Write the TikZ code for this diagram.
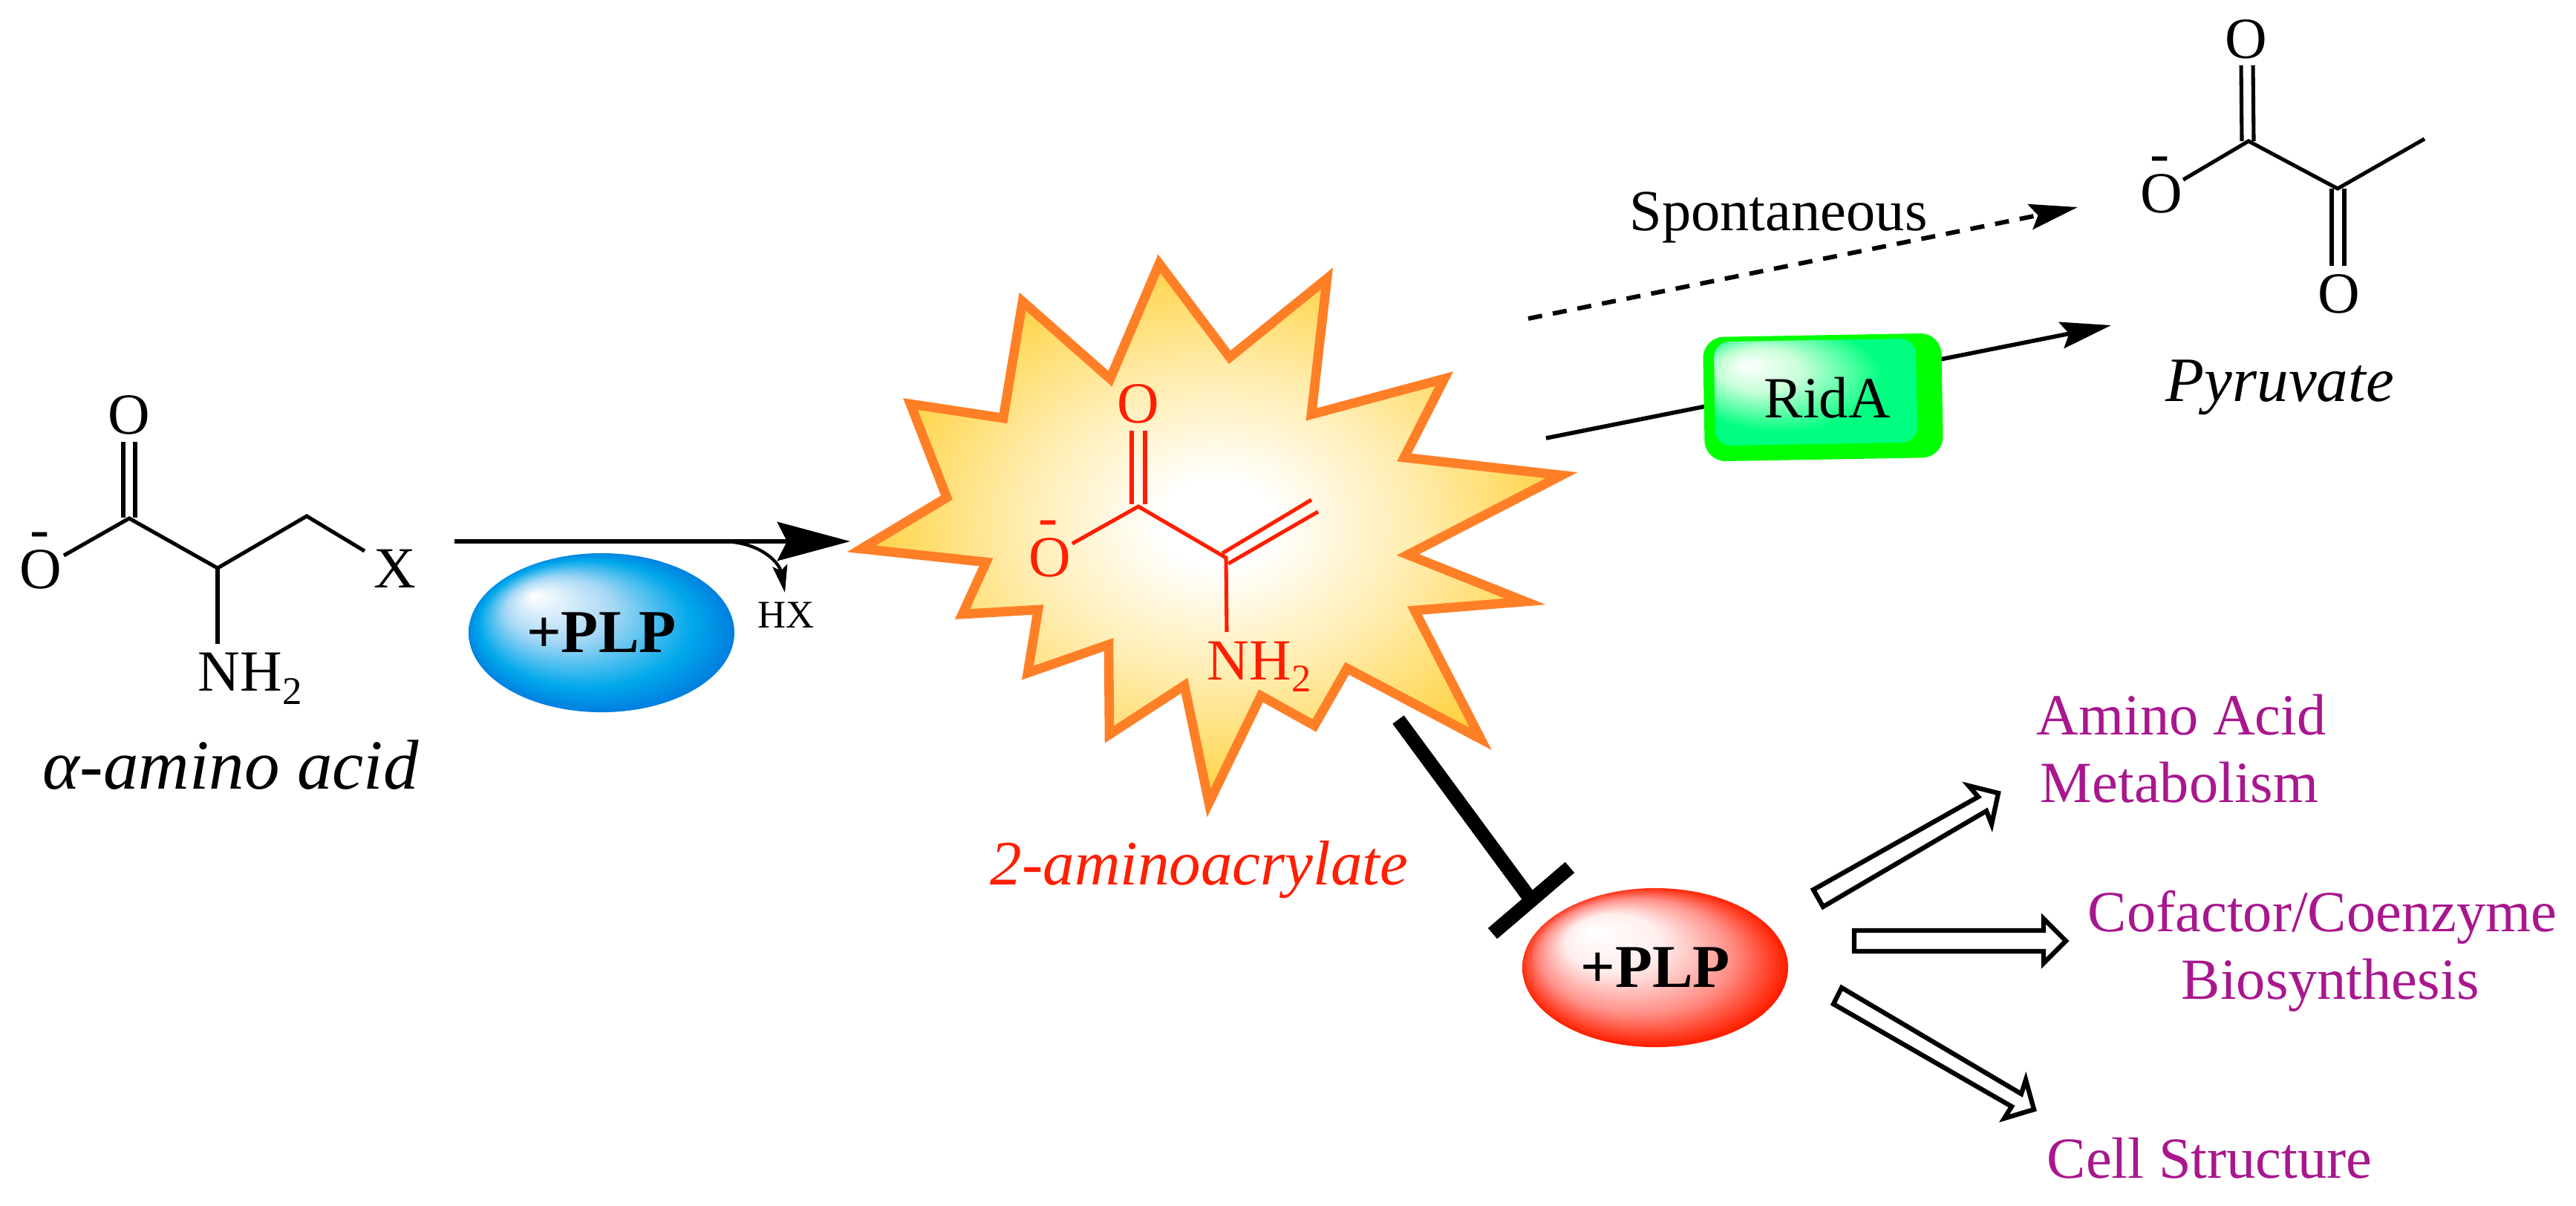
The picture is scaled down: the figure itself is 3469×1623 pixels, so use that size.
\documentclass[tikz,border=0pt]{standalone}
\usepackage{fontspec}
\setmainfont{Liberation Serif}
\usetikzlibrary{arrows.meta,shapes.geometric}

\definecolor{starline}{HTML}{FF7F27}
\definecolor{staredge}{HTML}{FFD03A}
\definecolor{starmid}{HTML}{FFEDB0}
\definecolor{chemred}{HTML}{FF1E00}
\definecolor{pathway}{HTML}{A8178E}
\definecolor{ballblue}{HTML}{0080E0}
\definecolor{ballsky}{HTML}{00A8EA}
\definecolor{ballpale}{HTML}{A8D8F5}
\definecolor{ballred}{HTML}{FF2000}
\definecolor{ballpink}{HTML}{FF9088}
\definecolor{boxgreen}{HTML}{00FF00}
\definecolor{boxmint}{HTML}{00FF80}
\definecolor{boxpale}{HTML}{C8FFD8}

% the path's box is the inner 50bp of a shading, so the rim sits at 25bp
\pgfdeclareradialshading{starglow}{\pgfpoint{0.5bp}{1bp}}{color(0bp)=(white); color(4bp)=(white); color(14bp)=(starmid); color(26bp)=(staredge); color(50bp)=(staredge)}
\pgfdeclareradialshading{blueball}{\pgfpoint{-13bp}{12bp}}{color(0bp)=(white); color(10bp)=(ballpale); color(20bp)=(ballsky); color(25bp)=(ballblue); color(26bp)=(ballblue)}
\pgfdeclareradialshading{redball}{\pgfpoint{-12bp}{12bp}}{color(0bp)=(white); color(9bp)=(white!85!ballpink); color(18bp)=(ballpink); color(25bp)=(ballred); color(26bp)=(ballred)}
\pgfdeclareradialshading{greenbox}{\pgfpoint{-17bp}{13bp}}{color(0bp)=(white); color(10bp)=(boxpale); color(25bp)=(boxmint); color(50bp)=(boxmint)}

\tikzset{
  txt/.style = {inner sep=0pt, anchor=base west, font=\fontsize{22.3}{26}\selectfont},
  atom/.style = {inner sep=0pt, anchor=center, font=\fontsize{22.3}{26}\selectfont},
  small/.style = {inner sep=0pt, anchor=base west, font=\fontsize{15}{18}\selectfont},
  name label/.style = {inner sep=0pt, anchor=base west, font=\itshape\fontsize{24.2}{28}\selectfont},
  bond/.style = {line width=1.45pt},
  ball/.style = {ellipse, inner sep=0pt, minimum width=101.8pt, minimum height=60.9pt, font=\bfseries\fontsize{23.3}{27}\selectfont},
  hollow/.style = {draw=black, fill=white, line width=1.8pt, miter limit=6},
  pathway text/.style = {txt, text=pathway},
}

\begin{document}
\begin{tikzpicture}[x=0.01cm, y=-0.01cm]
\useasboundingbox (0,0) rectangle (3469,1623);

% amino acid
\coordinate (c1) at (174,698);
\coordinate (c2) at (293,765);
\coordinate (c3) at (413,695);
\node[atom] (o1) at (174,559) {O};
\node[atom] (o2) at (55,767) {O};
\node[atom] (m1) at (54,728) {-};
\node[atom] (x) at (532,766) {X};
\node[txt] (n1) at (266,930) {NH};
\node[small] (n1s) at (380,948) {2};
\coordinate (o2end) at (86,748);
\coordinate (xend) at (491,742);
\coordinate (n1end) at (293,867);
\coordinate (o1a) at (166,595);
\coordinate (o1b) at (182,595);
\coordinate (c1a) at (166,697);
\coordinate (c1b) at (182,697);
\draw[bond] (o2end) -- (c1) -- (c2) -- (c3) -- (xend);
\draw[bond] (c2) -- (n1end);
\draw[bond] (o1a) -- (c1a);
\draw[bond] (o1b) -- (c1b);
\node[name label, font=\itshape\fontsize{27}{30}\selectfont] (aa) at (57,1062) {α-amino acid};

% first reaction arrow
\coordinate (r1a) at (612,729);
\coordinate (r1b) at (1145,729);
\coordinate (hxa) at (987,730);
\coordinate (hxb) at (1057,798);
\draw[line width=1.85pt, -{Stealth[length=27.9pt, width=14.8pt, inset=3.7pt]}] (r1a) -- (r1b);
\draw[line width=1.2pt, -{Stealth[length=10.5pt, width=5.7pt, inset=2pt]}] (hxa) .. controls (1030,735) and (1050,760) .. (hxb);
\node[small] (hx) at (1020,845) {HX};
\node[ball, shade, shading=blueball] (plp1) at (810,852) {+PLP};

% burst
\path[draw=starline, line width=3.6pt, miter limit=10, shade, shading=starglow]
  (1160,739) -- (1328,757) -- (1296,827) -- (1398,821) -- (1384,906) -- (1493,868)
  -- (1494,989) -- (1595,923) -- (1628,1081) -- (1698,937) -- (1770,977) -- (1814,900)
  -- (1994,995) -- (1905,822) -- (2054,810) -- (1896,747) -- (2103,640) -- (1891,616)
  -- (1945,510) -- (1766,558) -- (1787,375) -- (1656,481) -- (1561,355) -- (1495,510)
  -- (1377,406) -- (1351,563) -- (1226,544) -- (1275,670) -- cycle;

% 2-aminoacrylate
\begin{scope}[chemred]
\coordinate (d1) at (1533,682);
\coordinate (d2) at (1651,751);
\node[atom, text=chemred] (o3) at (1533,544) {O};
\node[atom, text=chemred] (o4) at (1414,751) {O};
\node[atom, text=chemred] (m2) at (1412,712) {-};
\node[txt, text=chemred] (n2) at (1625,915) {NH};
\node[small, text=chemred] (n2s) at (1739,931) {2};
\coordinate (o4end) at (1444,732);
\coordinate (n2end) at (1652,851);
\coordinate (o3a) at (1524,580);
\coordinate (o3b) at (1542,580);
\coordinate (d1a) at (1524,679);
\coordinate (d1b) at (1542,679);
\coordinate (e1a) at (1646,745);
\coordinate (e1b) at (1766,673);
\coordinate (e2a) at (1654,759);
\coordinate (e2b) at (1775,689);
\draw[bond] (o4end) -- (d1) -- (d2) -- (n2end);
\draw[bond] (o3a) -- (d1a);
\draw[bond] (o3b) -- (d1b);
\draw[bond] (e1a) -- (e1b);
\draw[bond] (e2a) -- (e2b);
\end{scope}
\node[name label, text=chemred] (acr) at (1333,1191) {2-aminoacrylate};

% routes to pyruvate
\node[txt] (sp) at (2194,310) {Spontaneous};
\coordinate (s1) at (2058,429);
\coordinate (s2) at (2798,279);
\draw[line width=1.7pt, dash pattern=on 5.4pt off 4.2pt, -{Stealth[length=18.5pt, width=9.8pt, inset=3pt]}] (s1) -- (s2);
\coordinate (r2a) at (2082,590);
\coordinate (r2b) at (2843,438);
\draw[line width=1.6pt, -{Stealth[length=19.4pt, width=10.2pt, inset=3pt]}] (r2a) -- (r2b);
\node[rectangle, rounded corners=8pt, fill=boxgreen, minimum width=91.3pt, minimum height=47.6pt, inner sep=0pt, rotate=1] (rida) at (2455,535) {};
\node[rectangle, rounded corners=6pt, shade, shading=greenbox, minimum width=77.4pt, minimum height=39.8pt, inner sep=0pt, rotate=1] (ridb) at (2445,528) {};
\node[txt] (rt) at (2375,562) {RidA};

% pyruvate
\coordinate (p1) at (3028,190);
\coordinate (p2) at (3148,254);
\coordinate (p3) at (3265,187);
\coordinate (o6end) at (2940,242);
\node[atom] (o5) at (3025,53) {O};
\node[atom] (o6) at (2911,261) {O};
\node[atom] (m3) at (2909,222) {-};
\node[atom] (o7) at (3150,396) {O};
\coordinate (o5a) at (3018,88);
\coordinate (o5b) at (3034,88);
\coordinate (p1a) at (3019,190);
\coordinate (p1b) at (3035,190);
\coordinate (p2a) at (3140,254);
\coordinate (p2b) at (3157,254);
\coordinate (o7a) at (3140,358);
\coordinate (o7b) at (3157,358);
\draw[bond] (o6end) -- (p1) -- (p2) -- (p3);
\draw[bond] (o5a) -- (p1a);
\draw[bond] (o5b) -- (p1b);
\draw[bond] (p2a) -- (o7a);
\draw[bond] (p2b) -- (o7b);
\node[name label] (pyr) at (2916,540) {Pyruvate};

% inhibition of PLP
\coordinate (t1) at (1883,969);
\coordinate (t2) at (2062,1212);
\coordinate (t3) at (2114,1168);
\coordinate (t4) at (2010,1257);
\draw[line width=5.4pt] (t1) -- (t2);
\draw[line width=5.4pt] (t3) -- (t4);
\node[ball, shade, shading=redball] (plp2) at (2229,1303) {+PLP};

% outcomes
\draw[hollow] (2442,1198) -- (2664,1073) -- (2651,1058) -- (2691,1068) -- (2682,1110) -- (2675,1092) -- (2455,1221) -- cycle;
\draw[hollow] (2497,1253) -- (2752,1253) -- (2752,1237) -- (2782,1267) -- (2752,1297) -- (2752,1281) -- (2497,1281) -- cycle;
\draw[hollow] (2480,1330) -- (2722,1473) -- (2728,1454) -- (2739,1494) -- (2699,1506) -- (2709,1490) -- (2469,1352) -- cycle;

\node[pathway text] (t5) at (2742,989) {Amino Acid};
\node[pathway text] (t6) at (2747,1080) {Metabolism};
\node[pathway text] (t7) at (2811,1254) {Cofactor/Coenzyme};
\node[pathway text] (t8) at (2937,1345) {Biosynthesis};
\node[pathway text] (t9) at (2756,1586) {Cell Structure};
\end{tikzpicture}
\end{document}
